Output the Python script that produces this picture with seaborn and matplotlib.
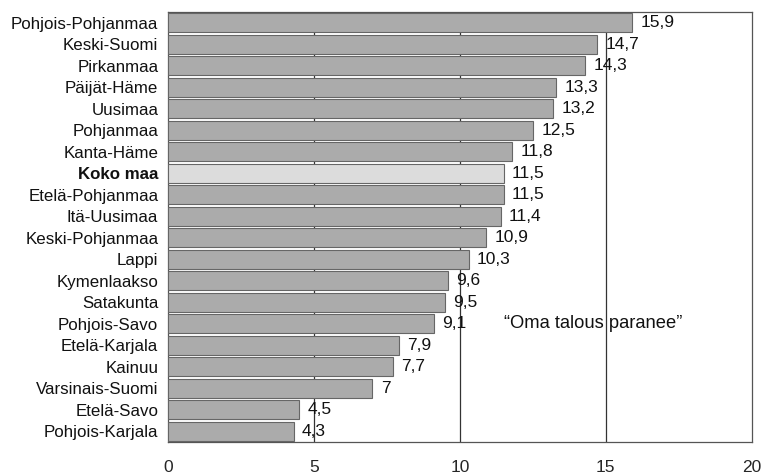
import matplotlib
matplotlib.use("Agg")
import matplotlib.pyplot as plt
import seaborn as sns
import pandas as pd

# Share of respondents expecting own finances to improve, by region
regions = ["Pohjois-Pohjanmaa", "Keski-Suomi", "Pirkanmaa", "Päijät-Häme", "Uusimaa",
           "Pohjanmaa", "Kanta-Häme", "Koko maa", "Etelä-Pohjanmaa", "Itä-Uusimaa",
           "Keski-Pohjanmaa", "Lappi", "Kymenlaakso", "Satakunta", "Pohjois-Savo",
           "Etelä-Karjala", "Kainuu", "Varsinais-Suomi", "Etelä-Savo", "Pohjois-Karjala"]
values = [15.9, 14.7, 14.3, 13.3, 13.2, 12.5, 11.8, 11.5, 11.5, 11.4,
          10.9, 10.3, 9.6, 9.5, 9.1, 7.9, 7.7, 7.0, 4.5, 4.3]
x_ticks = [0, 5, 10, 15, 20]
title_note = "\u201cOma talous paranee\u201d"
highlight = "Koko maa"

df = pd.DataFrame({"Alue": regions, "Osuus": values})

sns.set_theme(style="white")
plt.rcParams["font.family"] = ["Liberation Sans", "DejaVu Sans"]

fig = plt.figure(figsize=(7.62, 4.75), dpi=100)
ax = fig.add_axes([0.2205, 0.0695, 0.766, 0.9052])

palette = {r: ("#dcdcdc" if r == highlight else "#ababab") for r in regions}
sns.barplot(data=df, y="Alue", x="Osuus", hue="Alue", palette=palette, legend=False,
            orient="h", width=0.9, edgecolor="#666666", linewidth=0.8, ax=ax, zorder=3)

ax.set_xlim(0, 20)
ax.set_ylim(len(regions) - 0.5, -0.5)
ax.set_xticks(x_ticks)
ax.set_xticklabels([str(t) for t in x_ticks], fontsize=12.5)
ax.set_xlabel("")
ax.set_ylabel("")
ax.tick_params(axis="x", direction="out", length=6, width=0.8, color="#333333", pad=7)
ax.tick_params(axis="y", length=0, pad=7, labelsize=12.2)

for t in x_ticks[1:-1]:
    ax.axvline(t, color="#333333", lw=0.9, zorder=1)

for s in ax.spines.values():
    s.set_color("#555555")
    s.set_linewidth(0.9)

for lab in ax.get_yticklabels():
    lab.set_color("#111111")
    if lab.get_text() == highlight:
        lab.set_fontweight("bold")

labels = [f"{v:g}".replace(".", ",") for v in values]
for cont in ax.containers:
    for bar in cont:
        i = int(round(bar.get_y() + bar.get_height() / 2))
        ax.annotate(labels[i], (bar.get_width(), i), xytext=(6, 0), textcoords="offset points",
                    ha="left", va="center", fontsize=12.5, color="#111111", zorder=4)

ax.text(11.5, 14, title_note, ha="left", va="center", fontsize=13.2,
        color="#111111", zorder=4)

fig.savefig("out.png", dpi=100)
